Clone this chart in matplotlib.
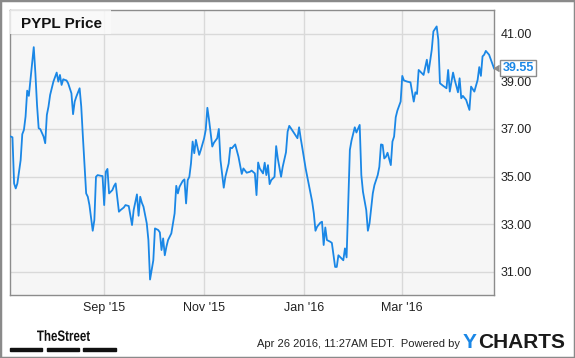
import matplotlib
matplotlib.use("Agg")
import matplotlib.pyplot as plt
import pandas as pd
from matplotlib.patches import Rectangle, PathPatch
from matplotlib.textpath import TextPath
from matplotlib.font_manager import FontProperties
from matplotlib.transforms import Affine2D

plt.rcParams['font.family'] = ['Liberation Sans', 'DejaVu Sans']

# PYPL closing prices
dates = [
    "2015-07-06", "2015-07-07", "2015-07-08", "2015-07-09", "2015-07-10", "2015-07-12",
    "2015-07-13", "2015-07-14", "2015-07-15", "2015-07-16", "2015-07-17", "2015-07-18",
    "2015-07-19", "2015-07-20", "2015-07-21", "2015-07-22", "2015-07-23", "2015-07-24",
    "2015-07-26", "2015-07-27", "2015-07-28", "2015-07-29", "2015-07-30", "2015-07-31",
    "2015-08-01", "2015-08-03", "2015-08-04", "2015-08-05", "2015-08-06", "2015-08-07",
    "2015-08-08", "2015-08-09", "2015-08-10", "2015-08-12", "2015-08-13", "2015-08-14",
    "2015-08-15", "2015-08-17", "2015-08-18", "2015-08-19", "2015-08-21", "2015-08-22",
    "2015-08-23", "2015-08-25", "2015-08-26", "2015-08-27", "2015-08-28", "2015-08-30",
    "2015-08-31", "2015-09-01", "2015-09-02", "2015-09-03", "2015-09-04", "2015-09-06",
    "2015-09-07", "2015-09-08", "2015-09-10", "2015-09-11", "2015-09-13", "2015-09-14",
    "2015-09-16", "2015-09-18", "2015-09-19", "2015-09-21", "2015-09-22", "2015-09-23",
    "2015-09-24", "2015-09-25", "2015-09-27", "2015-09-28", "2015-09-29", "2015-10-01",
    "2015-10-02", "2015-10-04", "2015-10-05", "2015-10-06", "2015-10-07", "2015-10-08",
    "2015-10-09", "2015-10-10", "2015-10-12", "2015-10-14", "2015-10-15", "2015-10-16",
    "2015-10-17", "2015-10-19", "2015-10-20", "2015-10-21", "2015-10-22", "2015-10-23",
    "2015-10-24", "2015-10-25", "2015-10-26", "2015-10-27", "2015-10-29", "2015-10-30",
    "2015-11-01", "2015-11-02", "2015-11-03", "2015-11-04", "2015-11-06", "2015-11-07",
    "2015-11-09", "2015-11-10", "2015-11-11", "2015-11-13", "2015-11-14", "2015-11-16",
    "2015-11-17", "2015-11-18", "2015-11-20", "2015-11-22", "2015-11-23", "2015-11-24",
    "2015-11-25", "2015-11-27", "2015-11-29", "2015-11-30", "2015-12-02", "2015-12-03",
    "2015-12-04", "2015-12-05", "2015-12-07", "2015-12-08", "2015-12-09", "2015-12-10",
    "2015-12-11", "2015-12-12", "2015-12-14", "2015-12-15", "2015-12-16", "2015-12-18",
    "2015-12-19", "2015-12-21", "2015-12-22", "2015-12-23", "2015-12-24", "2015-12-26",
    "2015-12-28", "2015-12-29", "2015-12-30", "2015-12-31", "2016-01-02", "2016-01-04",
    "2016-01-06", "2016-01-07", "2016-01-08", "2016-01-09", "2016-01-11", "2016-01-12",
    "2016-01-13", "2016-01-14", "2016-01-15", "2016-01-17", "2016-01-18", "2016-01-20",
    "2016-01-21", "2016-01-22", "2016-01-24", "2016-01-25", "2016-01-26", "2016-01-27",
    "2016-01-29", "2016-01-30", "2016-02-01", "2016-02-02", "2016-02-04", "2016-02-05",
    "2016-02-06", "2016-02-08", "2016-02-09", "2016-02-10", "2016-02-12", "2016-02-13",
    "2016-02-15", "2016-02-16", "2016-02-17", "2016-02-18", "2016-02-19", "2016-02-20",
    "2016-02-21", "2016-02-23", "2016-02-24", "2016-02-25", "2016-02-26", "2016-02-27",
    "2016-02-29", "2016-03-01", "2016-03-02", "2016-03-04", "2016-03-06", "2016-03-08",
    "2016-03-09", "2016-03-10", "2016-03-11", "2016-03-12", "2016-03-14", "2016-03-16",
    "2016-03-17", "2016-03-19", "2016-03-20", "2016-03-22", "2016-03-23", "2016-03-24",
    "2016-03-26", "2016-03-28", "2016-03-29", "2016-03-30", "2016-04-01", "2016-04-02",
    "2016-04-03", "2016-04-04", "2016-04-05", "2016-04-06", "2016-04-07", "2016-04-09",
    "2016-04-10", "2016-04-11", "2016-04-12", "2016-04-14", "2016-04-16", "2016-04-17",
    "2016-04-18", "2016-04-19", "2016-04-20", "2016-04-21", "2016-04-23", "2016-04-24",
    "2016-04-26",
]
prices = [
    36.68, 36.65, 34.71, 34.50, 34.71, 35.69,
    36.78, 36.96, 37.52, 38.61, 38.39, 39.06,
    39.76, 40.44, 39.34, 38.01, 37.03, 36.99,
    36.68, 36.40, 37.59, 37.94, 38.43, 38.71,
    38.99, 39.37, 38.99, 39.27, 38.85, 39.09,
    39.06, 39.04, 38.92, 38.50, 37.62, 38.15,
    38.36, 38.71, 37.94, 36.68, 34.29, 34.15,
    33.80, 32.72, 33.17, 34.99, 35.06, 35.03,
    35.02, 33.80, 35.20, 35.32, 34.29, 34.43,
    34.60, 34.71, 33.52, 33.59, 33.70, 33.80,
    33.76, 32.96, 33.59, 34.25, 33.35, 34.15,
    33.90, 33.73, 33.03, 32.33, 30.67, 31.48,
    32.82, 32.75, 32.65, 31.91, 32.40, 31.69,
    32.05, 32.33, 32.61, 33.45, 34.61, 34.29,
    34.57, 34.82, 34.88, 33.87, 34.85, 34.99,
    35.55, 36.47, 35.98, 36.54, 35.91, 36.12,
    36.60, 36.96, 37.89, 37.40, 36.26, 36.42,
    36.61, 37.00, 35.69, 34.53, 34.99, 35.55,
    36.21, 36.19, 36.35, 35.83, 35.48, 35.11,
    35.34, 35.16, 35.20, 35.25, 35.13, 34.22,
    35.59, 35.34, 35.13, 35.58, 35.06, 35.48,
    34.68, 34.85, 34.99, 36.28, 35.76, 34.99,
    35.41, 36.02, 36.89, 37.13, 37.03, 36.82,
    36.61, 37.07, 36.60, 36.19, 35.34, 34.64,
    33.94, 33.45, 32.72, 32.89, 33.06, 33.10,
    32.12, 32.86, 32.33, 32.26, 32.21, 31.20,
    31.20, 31.69, 31.55, 31.48, 31.98, 31.60,
    36.12, 36.51, 37.07, 36.85, 37.17, 35.06,
    34.36, 33.59, 32.72, 33.03, 34.29, 34.64,
    35.06, 35.41, 36.35, 36.33, 35.76, 35.83,
    36.00, 35.48, 36.47, 36.68, 37.49, 37.77,
    38.15, 39.23, 39.04, 38.99, 38.96, 38.15,
    38.54, 38.47, 39.48, 39.41, 39.27, 39.91,
    39.37, 40.33, 41.10, 41.31, 40.75, 38.92,
    38.81, 38.71, 39.48, 38.57, 39.37, 39.06,
    38.81, 38.54, 39.13, 38.29, 38.39, 38.22,
    38.01, 37.80, 38.78, 38.57, 39.06, 39.60,
    39.23, 40.05, 40.12, 40.28, 40.12, 39.93,
    39.55,
]
yticks = [31, 33, 35, 37, 39, 41]
xtick_dates = ["2015-09-01", "2015-11-01", "2016-01-01", "2016-03-01"]
xtick_labels = ["Sep '15", "Nov '15", "Jan '16", "Mar '16"]

line_color = "#1a87e6"
grid_color = "#d9d9d9"
frame_color = "#8c8c8c"
W, H = 575, 358

x = pd.to_datetime(dates)

fig = plt.figure(figsize=(5.75, 3.58), dpi=100)
fig.patches.append(Rectangle((0, 0), 1, 1, transform=fig.transFigure,
                             fill=False, edgecolor="#8a8a8a", lw=2.5))

ax = fig.add_axes([10 / W, 63 / H, 484 / W, 285 / H])
ax.set_facecolor("#f6f6f6")
ax.plot(x, prices, color=line_color, lw=1.3, zorder=3)

ax.set_xlim(pd.Timestamp("2015-07-05 12:00"), pd.Timestamp("2016-04-26"))
ax.set_ylim(30.02, 42.0)

ax.set_yticks(yticks)
ax.set_yticklabels(["%.2f" % v for v in yticks])
ax.yaxis.tick_right()
ax.set_xticks(pd.to_datetime(xtick_dates))
ax.set_xticklabels(xtick_labels)
ax.tick_params(length=0, labelsize=9, colors="#222222")
ax.tick_params(axis="y", pad=5)
ax.tick_params(axis="x", pad=5)
ax.grid(True, color=grid_color, lw=1)
ax.set_axisbelow(True)
for s in ax.spines.values():
    s.set_color(frame_color)
    s.set_linewidth(1)

# title box
fig.patches.append(Rectangle((10 / W, 1 - 34 / H), 101 / W, 24 / H,
                             transform=fig.transFigure, fc="#fbfbfb", ec="none",
                             alpha=0.8, zorder=4))
fig.text(21 / W, 1 - 24 / H, "PYPL Price", ha="left", va="center",
         fontsize=11, fontweight="bold", color="#111111", zorder=5)

# last value label
ax.annotate("39.55", xy=(x[-1], prices[-1]), xytext=(6, 0), textcoords="offset points",
            ha="left", va="center", fontsize=9, fontweight="bold", color=line_color,
            bbox=dict(boxstyle="square,pad=0.15", fc="white", ec=frame_color, lw=1),
            annotation_clip=False, zorder=6)
ax.plot([x[-1]], [prices[-1]], marker=4, color=frame_color, ms=5, clip_on=False, zorder=5)

# footer: TheStreet logo, squeezed horizontally (pixel coords)
tp = TextPath((0, 0), "TheStreet", size=15,
              prop=FontProperties(family="Liberation Sans", weight="bold"))
bb = tp.get_extents()
logo = Affine2D().translate(-bb.x0, -bb.y0).scale(53 / bb.width, 11 / bb.height)
logo = logo.translate(37, H - 341)
fig.patches.append(PathPatch(tp, transform=logo, fc="#111111", ec="none"))
for x0, x1 in [(10, 42), (47, 79), (83, 116)]:
    fig.patches.append(Rectangle((x0 / W, 1 - 351 / H), (x1 - x0) / W, 3 / H,
                                 transform=fig.transFigure, color="#111111"))
fig.text(460 / W, 1 - 344 / H, "Apr 26 2016, 11:27AM EDT.  Powered by",
         ha="right", va="center", fontsize=8, color="#222222")
fig.text(463 / W, 1 - 343 / H, "Y", ha="left", va="center",
         fontsize=15, fontweight="bold", color=line_color)
fig.text(478 / W, 1 - 343 / H, "CHARTS", ha="left", va="center",
         fontsize=15, fontweight="bold", color="#1a1a1a")

fig.savefig("out.png", dpi=100)
